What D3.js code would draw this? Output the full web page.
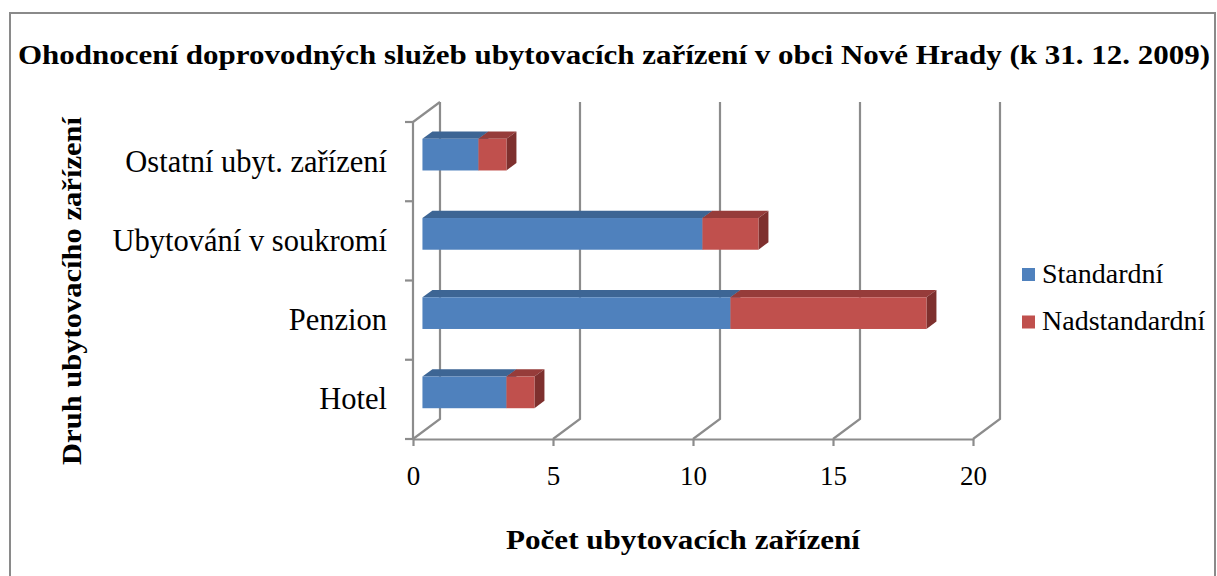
<!DOCTYPE html>
<html>
<head>
<meta charset="utf-8">
<script src="https://cdn.jsdelivr.net/npm/d3@7"></script>
<style>
  body { margin: 0; background: #fff; }
  svg { display: block; }
</style>
</head>
<body>
<svg></svg>
<script>
// Data
const categories = ['Hotel', 'Penzion', 'Ubytování v soukromí', 'Ostatní ubyt. zařízení'];
const standardni = [3, 11, 10, 2];
const nadstandardni = [1, 7, 2, 1];
const seriesNames = ['Standardní', 'Nadstandardní'];
const xTicks = [0, 5, 10, 15, 20];

const title = 'Ohodnocení doprovodných služeb ubytovacích zařízení v obci Nové Hrady (k 31. 12. 2009)';
const xTitle = 'Počet ubytovacích zařízení';
const yTitle = 'Druh ubytovacího zařízení';

// Constants
const width = 1217;
const height = 576;
const font = 'Liberation Serif';

const plotLeft = 413;
const plotRight = 973;
const plotBottom = 439;
const plotTop = 122;

// depth of the 3d box
const depthX = 27;
const depthY = -20;
const barStart = 0.35;
const barDepth = 0.37;

const gridColor = '#8c8c8c';
const colors = {
    front: ['#4f81bd', '#c0504d'],
    top: ['#3d6594', '#963c3a'],
    side: ['#375a84', '#7e302e']
};

const svg = d3.select('svg')
    .attr('width', width)
    .attr('height', height)
    .attr('font-family', font);

// frame
svg.append('rect')
    .attr('x', 10)
    .attr('y', 13)
    .attr('width', 1205)
    .attr('height', 600)
    .attr('fill', 'none')
    .attr('stroke', '#8a8a8a')
    .attr('stroke-width', 2);

// title
svg.append('text')
    .attr('x', 614)
    .attr('y', 64)
    .attr('text-anchor', 'middle')
    .attr('font-family', font)
    .attr('font-size', 28)
    .attr('font-weight', 'bold')
    .attr('textLength', 1192)
    .attr('lengthAdjust', 'spacingAndGlyphs')
    .text(title);

// scales
const xScale = d3.scaleLinear()
    .domain([0, 20])
    .range([plotLeft, plotRight]);

const yScale = d3.scaleBand()
    .domain(categories)
    .range([plotBottom, plotTop]);

const barScale = d3.scaleBand()
    .domain(categories)
    .range([plotBottom, plotTop])
    .paddingInner(0.6)
    .paddingOuter(0.3);

// walls
const walls = svg.append('g')
    .attr('stroke', gridColor)
    .attr('stroke-width', 2.2)
    .attr('fill', 'none');

walls.selectAll('.grid')
    .data(xTicks).enter()
    .append('path')
    .attr('class', 'grid')
    .attr('d', d => {
        const x = xScale(d);
        return `M${x},${plotBottom}L${x + depthX},${plotBottom + depthY}L${x + depthX},${plotTop + depthY}`;
    });

walls.append('path')
    .attr('d', `M${plotLeft},${plotTop}L${plotLeft + depthX},${plotTop + depthY}`);

// y axis line and ticks at band edges
const yEdges = categories.map(c => yScale(c) + yScale.bandwidth())
    .concat([yScale(categories[categories.length - 1])]);

walls.append('path')
    .attr('d', `M${plotLeft},${plotTop}L${plotLeft},${plotBottom}`);

walls.selectAll('.ytick')
    .data(yEdges).enter()
    .append('path')
    .attr('class', 'ytick')
    .attr('d', d => `M${plotLeft - 8},${d}L${plotLeft},${d}`);

// x axis
const xAxis = d3.axisBottom(xScale)
    .tickValues(xTicks)
    .tickSizeInner(7)
    .tickSizeOuter(0)
    .tickFormat(d => String(d));

const xAxisG = svg.append('g')
    .attr('transform', `translate(0, ${plotBottom})`)
    .call(xAxis)
    .attr('font-family', font)
    .attr('font-size', 27);

xAxisG.select('.domain')
    .attr('stroke', gridColor)
    .attr('stroke-width', 2.2);

xAxisG.selectAll('.tick line')
    .attr('stroke', gridColor)
    .attr('stroke-width', 2.2);

xAxisG.selectAll('.tick text')
    .attr('y', 46)
    .attr('dy', 0)
    .attr('fill', '#000');

// category labels
svg.selectAll('.cat')
    .data(categories).enter()
    .append('text')
    .attr('class', 'cat')
    .attr('x', 387)
    .attr('y', d => yScale(d) + yScale.bandwidth() / 2 + 10)
    .attr('text-anchor', 'end')
    .attr('font-family', font)
    .attr('font-size', 30.5)
    .text(d => d);

// bars
const table = categories.map((c, i) => ({ category: c, s: standardni[i], n: nadstandardni[i] }));

const stack = d3.stack().keys(['s', 'n']);
const layers = stack(table);

const ox = barStart * depthX;
const oy = barStart * depthY;
const dx = barDepth * depthX;
const dy = barDepth * depthY;

layers.forEach((layer, k) => {
    const g = svg.append('g').attr('class', 'series-' + k);

    layer.forEach(seg => {
        const x0 = xScale(seg[0]) + ox;
        const x1 = xScale(seg[1]) + ox;
        const y0 = barScale(seg.data.category) + oy;
        const y1 = y0 + barScale.bandwidth();

        // top face
        g.append('path')
            .attr('d', `M${x0},${y0}L${x0 + dx},${y0 + dy}L${x1 + dx},${y0 + dy}L${x1},${y0}Z`)
            .attr('fill', colors.top[k]);

        // side face
        g.append('path')
            .attr('d', `M${x1},${y0}L${x1 + dx},${y0 + dy}L${x1 + dx},${y1 + dy}L${x1},${y1}Z`)
            .attr('fill', colors.side[k]);

        // front face
        g.append('rect')
            .attr('x', x0)
            .attr('y', y0)
            .attr('width', x1 - x0)
            .attr('height', y1 - y0)
            .attr('fill', colors.front[k]);
    });
});

// axis titles
svg.append('text')
    .attr('x', 683)
    .attr('y', 549)
    .attr('text-anchor', 'middle')
    .attr('font-family', font)
    .attr('font-size', 28)
    .attr('font-weight', 'bold')
    .attr('textLength', 354)
    .attr('lengthAdjust', 'spacingAndGlyphs')
    .text(xTitle);

svg.append('text')
    .attr('transform', 'translate(81, 291) rotate(-90)')
    .attr('text-anchor', 'middle')
    .attr('font-family', font)
    .attr('font-size', 28)
    .attr('font-weight', 'bold')
    .attr('textLength', 348)
    .attr('lengthAdjust', 'spacingAndGlyphs')
    .text(yTitle);

// legend
const legend = svg.append('g')
    .attr('transform', 'translate(1022, 268)');

legend.selectAll('rect')
    .data(seriesNames).enter()
    .append('rect')
    .attr('x', 0)
    .attr('y', (d, i) => i * 47.5)
    .attr('width', 13)
    .attr('height', 13)
    .attr('fill', (d, i) => colors.front[i]);

legend.selectAll('text')
    .data(seriesNames).enter()
    .append('text')
    .attr('x', 20)
    .attr('y', (d, i) => 14.5 + i * 47.5)
    .attr('font-family', font)
    .attr('font-size', 28)
    .text(d => d);
</script>
</body>
</html>
